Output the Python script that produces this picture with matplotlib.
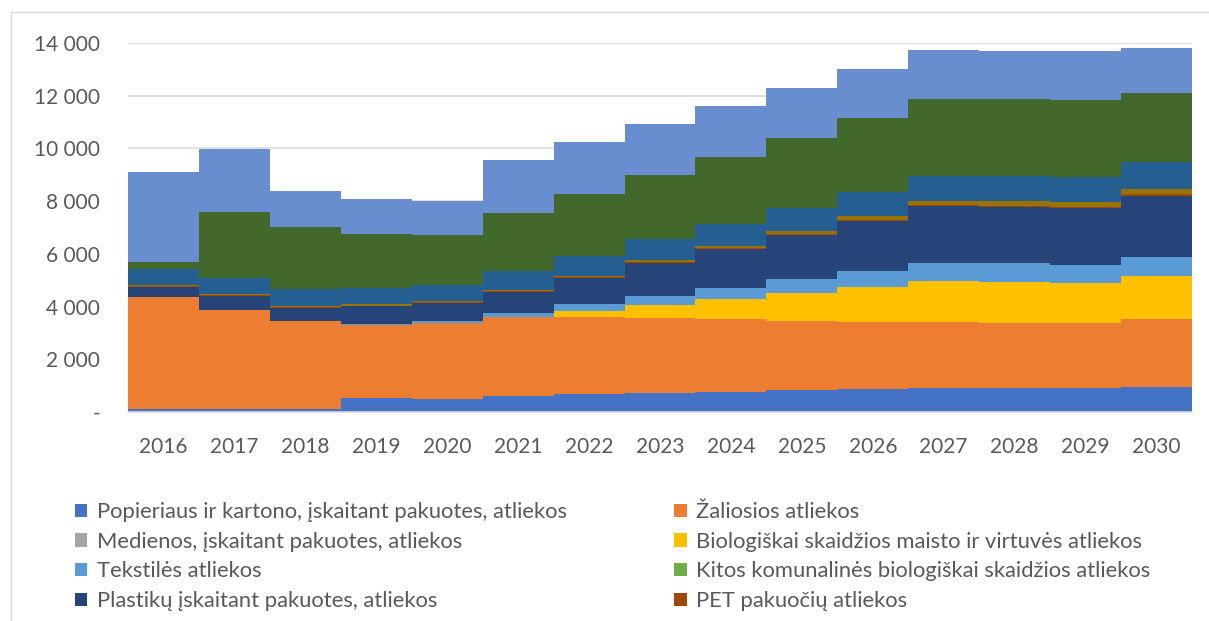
import matplotlib
matplotlib.use("Agg")
import matplotlib.pyplot as plt
from matplotlib.patches import Rectangle, Patch
import numpy as np

plt.rcParams['font.family'] = ['Lato', 'DejaVu Sans']

years = [2016, 2017, 2018, 2019, 2020, 2021, 2022, 2023, 2024, 2025, 2026, 2027, 2028, 2029, 2030]

# values (tonnes), bottom to top of the stack
popierius = [110, 110, 100, 520, 500, 620, 680, 730, 770, 830, 860, 920, 920, 900, 960]
zaliosios = [4260, 3760, 3350, 2790, 2860, 2990, 2910, 2820, 2740, 2630, 2560, 2480, 2470, 2460, 2580]
medienos = [0, 0, 0, 0, 0, 0, 0, 0, 0, 0, 0, 0, 0, 0, 0]
maisto = [0, 0, 0, 0, 0, 0, 250, 505, 780, 1050, 1330, 1570, 1540, 1530, 1630]
tekstiles = [0, 0, 20, 20, 100, 150, 250, 355, 430, 530, 610, 690, 710, 680, 710]
kitos_bio = [0, 0, 0, 0, 0, 0, 0, 0, 0, 0, 0, 0, 0, 0, 0]
plastikai = [380, 540, 485, 690, 680, 800, 1010, 1250, 1470, 1680, 1900, 2140, 2150, 2170, 2330]
pet = [20, 20, 20, 20, 20, 20, 20, 25, 30, 40, 40, 40, 30, 50, 50]
# series below are not shown in the visible part of the legend
serija9 = [0, 0, 0, 0, 0, 0, 0, 0, 0, 0, 0, 0, 0, 0, 0]
serija10 = [40, 50, 45, 40, 40, 45, 55, 75, 90, 110, 150, 180, 180, 170, 190]
serija11 = [620, 590, 640, 610, 610, 720, 760, 790, 840, 870, 900, 940, 960, 970, 1030]
serija12 = [270, 2500, 2360, 2070, 1910, 2210, 2340, 2440, 2540, 2650, 2790, 2900, 2900, 2920, 2610]
serija13 = [3390, 2400, 1380, 1340, 1290, 2000, 1970, 1950, 1930, 1920, 1880, 1870, 1850, 1850, 1720]

labels = ["Popieriaus ir kartono, įskaitant pakuotes, atliekos",
          "Žaliosios atliekos",
          "Medienos, įskaitant pakuotes, atliekos",
          "Biologiškai skaidžios maisto ir virtuvės atliekos",
          "Tekstilės atliekos",
          "Kitos komunalinės biologiškai skaidžios atliekos",
          "Plastikų įskaitant pakuotes, atliekos",
          "PET pakuočių atliekos"]

series = [popierius, zaliosios, medienos, maisto, tekstiles, kitos_bio, plastikai, pet,
          serija9, serija10, serija11, serija12, serija13]
colors = ['#4472C4', '#ED7D31', '#A5A5A5', '#FFC000', '#5B9BD5', '#70AD47', '#264478', '#9E480E',
          '#636363', '#997300', '#255E91', '#43682B', '#698ED0']

fig = plt.figure(figsize=(12.09, 6.21), dpi=100)
ax = fig.add_axes([128/1209, 1 - 412/621, (1192-128)/1209, (412-43)/621])

x = np.arange(len(years))
bottom = np.zeros(len(years))
for vals, c in zip(series, colors):
    ax.bar(x, vals, width=1.0, bottom=bottom, color=c, edgecolor='none', zorder=2)
    bottom += np.array(vals)

ax.set_xlim(-0.5, len(years) - 0.5)
ax.set_ylim(0, 14000)
ax.set_yticks(range(0, 14001, 2000))
ax.set_yticklabels(['-'] + [f"{v:,}".replace(',', ' ') for v in range(2000, 14001, 2000)])
ax.set_xticks(x)
ax.set_xticklabels([str(y) for y in years])
ax.grid(axis='y', color='#D9D9D9', linewidth=1.2, zorder=0)
ax.set_axisbelow(True)
for s in ['top', 'right', 'left']:
    ax.spines[s].set_visible(False)
ax.spines['bottom'].set_color('#D9D9D9')
ax.spines['bottom'].set_linewidth(1.2)
ax.tick_params(length=0, labelsize=15, colors='#595959')
ax.tick_params(axis='y', pad=20)
ax.tick_params(axis='x', pad=18)

handles = [Patch(facecolor=c) for c in colors[:8]]
order = [0, 2, 4, 6, 1, 3, 5, 7]
leg = fig.legend([handles[i] for i in order], [labels[i] for i in order], ncol=2,
                 loc='upper left', bbox_to_anchor=(75/1209, 1 - 502/621), frameon=False,
                 borderpad=0, borderaxespad=0,
                 fontsize=15.8, handlelength=0.55, handleheight=0.55, handletextpad=0.45,
                 labelspacing=0.44, columnspacing=4.9)
for t in leg.get_texts():
    t.set_color('#595959')

fig.patches.append(Rectangle((11/1209, -0.1), 1.2, 1.1 - 12/621, transform=fig.transFigure,
                             fill=False, edgecolor='#D9D9D9', linewidth=1))

fig.savefig('out.png', dpi=100)
